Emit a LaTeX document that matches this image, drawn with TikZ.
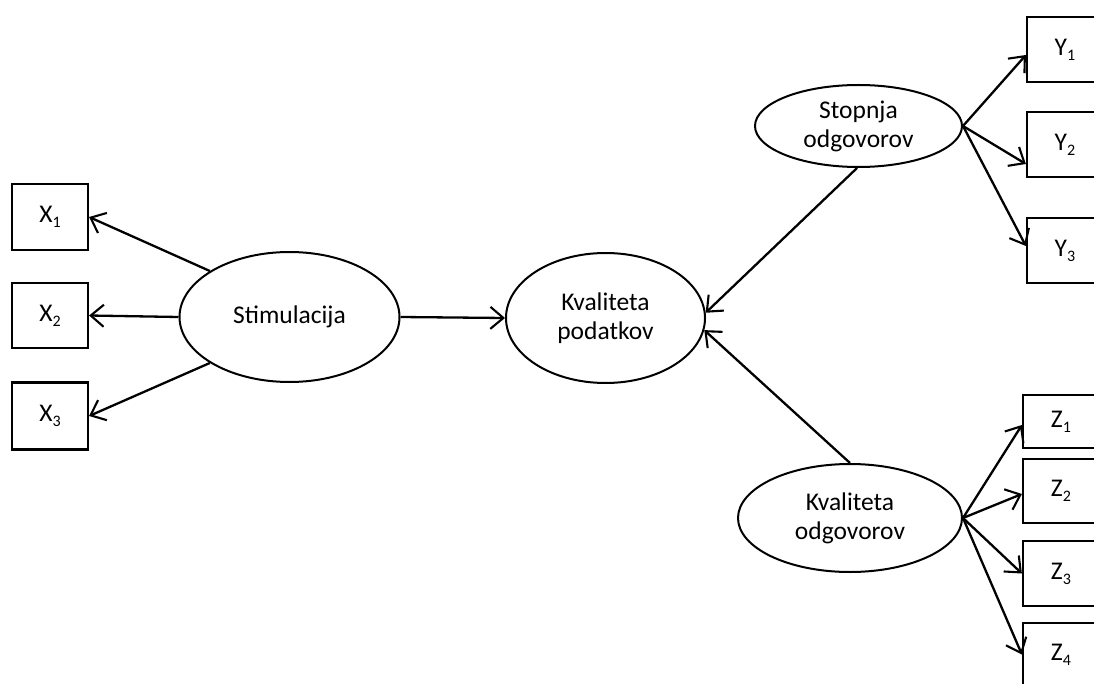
\documentclass[tikz,border=0pt]{standalone}
\usepackage{fontspec}
\setmainfont{Carlito}
\usetikzlibrary{shapes.geometric,arrows.meta}
\newcommand{\lbl}[2]{#1\raisebox{-5pt}{\fontsize{16}{16}\selectfont #2}}
\begin{document}
\begin{tikzpicture}[x=1pt,y=-1pt,
  latent/.style={ellipse,draw,line width=2pt,inner sep=0pt,align=center,
    font=\fontsize{25.5}{29}\selectfont},
  manifest/.style={rectangle,draw,line width=2.2pt,inner sep=0pt,minimum width=76pt,
    font=\fontsize{25.5}{29}\selectfont},
  path/.style={line width=2.3pt,-{Straight Barb[length=13pt,width=22pt,line width=2.1pt]}}]
\clip (0,0) rectangle (1094,684);
\fill[white] (0,0) rectangle (1094,684);
% latent variables
\node[latent,minimum width=220pt,minimum height=130pt] (stim) at (289.5,317) {Stimulacija};
\node[latent,minimum width=199pt,minimum height=130pt] (kp) at (605.5,318) {Kvaliteta\\podatkov};
\node[latent,minimum width=207pt,minimum height=82pt] (so) at (858.5,126) {Stopnja\\odgovorov};
\node[latent,minimum width=224pt,minimum height=108pt] (ko) at (850,518) {Kvaliteta\\odgovorov};
% indicators
\node[manifest,minimum height=66pt] (x1) at (50,217) {\lbl{X}{1}};
\node[manifest,minimum height=65pt] (x2) at (50,315.5) {\lbl{X}{2}};
\node[manifest,minimum height=67pt] (x3) at (50,416) {\lbl{X}{3}};
\node[manifest,minimum height=65pt] (y1) at (1065,49.5) {\lbl{Y}{1}};
\node[manifest,minimum height=65pt] (y2) at (1065,144.5) {\lbl{Y}{2}};
\node[manifest,minimum height=65pt] (y3) at (1065,250.5) {\lbl{Y}{3}};
\node[manifest,minimum height=53pt] (z1) at (1061,421.5) {\lbl{Z}{1}};
\node[manifest,minimum height=64pt] (z2) at (1061,491) {\lbl{Z}{2}};
\node[manifest,minimum height=65pt] (z3) at (1061,573.5) {\lbl{Z}{3}};
\node[manifest,minimum height=63pt] (z4) at (1061,654.5) {\lbl{Z}{4}};
% paths
\draw[path] (stim.150) -- (x1.east);
\draw[path] (stim.180) -- (x2.east);
\draw[path] (stim.210) -- (x3.east);
\draw[path] (stim.east) -- (kp.west);
\draw[path] (so.268) -- (kp.3);
\draw[path] (ko.north) -- (kp.353);
\draw[path] (so.east) -- ([yshift=-5.5pt]y1.west);
\draw[path] (so.east) -- ([yshift=-19.5pt]y2.west);
\draw[path] (so.east) -- ([yshift=4.5pt]y3.west);
\draw[path] (ko.east) -- ([yshift=-3.5pt]z1.west);
\draw[path] (ko.east) -- ([yshift=-3pt]z2.west);
\draw[path] (ko.east) -- (z3.west);
\draw[path] (ko.east) -- (z4.west);
\end{tikzpicture}
\end{document}
